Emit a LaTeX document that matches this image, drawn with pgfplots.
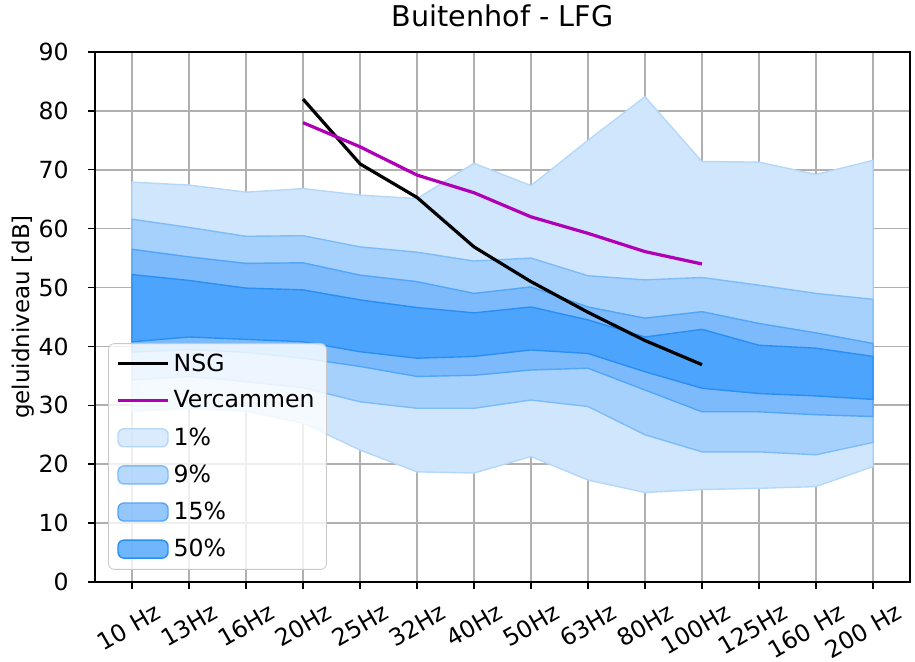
\documentclass[border=0pt]{standalone}
\usepackage{pgfplots}
\pgfplotsset{compat=1.18}
\usepackage{pgfplotstable}
\usepgfplotslibrary{fillbetween}
\usepackage{fontspec}
\setmainfont{DejaVu Sans}

\definecolor{c1}{HTML}{D0E6FC}
\definecolor{e1}{HTML}{B4D8FA}
\definecolor{c9}{HTML}{A6D1FC}
\definecolor{e9}{HTML}{7DBCF9}
\definecolor{c15}{HTML}{7CBAFC}
\definecolor{e15}{HTML}{52A6F9}
\definecolor{c50}{HTML}{4DA4FC}
\definecolor{e50}{HTML}{2A8FF5}
\definecolor{verc}{HTML}{B000B5}
\definecolor{gridc}{HTML}{B0B0B0}

\pgfplotsset{
  patchlegend/.style={legend image code/.code={\draw[##1] (0pt,-4.5pt) rectangle (25pt,4.5pt);}},
  linelegend/.style={legend image code/.code={\draw[##1] (0pt,0pt) -- (25pt,0pt);}},
}

\pgfplotstableread{
x u1 l1 u9 l9 u15 l15 u50 l50
0  67.9 29.0 61.6 34.3 56.5 39.0 52.2 40.8
1  67.4 29.5 60.2 34.9 55.2 39.5 51.2 41.6
2  66.2 29.0 58.7 34.0 54.1 39.0 49.9 41.2
3  66.8 27.0 58.8 33.0 54.2 38.0 49.6 40.8
4  65.7 22.4 56.9 30.6 52.1 36.6 47.9 39.1
5  65.1 18.7 56.0 29.5 51.0 34.9 46.6 38.0
6  71.1 18.5 54.5 29.5 49.0 35.1 45.7 38.3
7  67.3 21.3 55.0 30.9 50.1 36.0 46.7 39.4
8  75.0 17.3 52.0 29.8 46.7 36.3 44.5 38.8
9  82.4 15.2 51.3 25.0 44.8 32.6 41.6 35.7
10 71.4 15.7 51.7 22.1 45.9 28.9 42.9 32.9
11 71.3 15.9 50.4 22.1 43.9 28.9 40.2 32.0
12 69.2 16.2 49.0 21.6 42.3 28.4 39.7 31.6
13 71.6 19.6 48.0 23.7 40.5 28.1 38.3 31.0
}\bands

\pgfplotstableread{
x nsg verc
3  82.0 78.0
4  71.0 73.9
5  65.3 69.1
6  56.9 66.1
7  51.0 62.0
8  45.8 59.2
9  41.0 56.1
10 36.9 54.0
}\lines

\begin{document}
\begin{tikzpicture}
\begin{axis}[
  name=ax,
  scale only axis,
  width=407.5pt, height=265pt,
  xmin=-0.65, xmax=13.65,
  ymin=0, ymax=90,
  xtick={0,...,13},
  xticklabels={10 Hz,13Hz,16Hz,20Hz,25Hz,32Hz,40Hz,50Hz,63Hz,80Hz,100Hz,125Hz,160 Hz,200 Hz},
  ytick={0,10,...,90},
  tick pos=left,
  tick align=outside,
  major tick length=3.5pt,
  every tick/.style={black, line width=0.7pt},
  grid=major,
  grid style={gridc, line width=0.85pt},
  axis line style={black, line width=1pt},
  tick label style={font=\fontsize{11.8}{14}\selectfont},
  /pgf/number format/assume math mode=true,
  xticklabel style={xshift=10.8pt, yshift=-6.5pt, rotate=30, anchor=north east, inner sep=0pt},
  yticklabel style={xshift=-9.5pt, inner sep=0pt},
  ylabel={geluidniveau [dB]},
  ylabel style={font=\fontsize{11.5}{14}\selectfont, at={(axis description cs:-0.0736,0.5)}, anchor=south, inner sep=0pt},
  title={Buitenhof - LFG},
  title style={font=\fontsize{14.3}{17}\selectfont, at={(axis description cs:0.5,1)}, anchor=base, yshift=6.5pt, inner sep=0pt},
  legend cell align=left,
  legend style={at={(axis description cs:0.016,0.023)}, anchor=south west,
    fill=white, fill opacity=0.8, draw opacity=1, text opacity=1,
    draw=gridc!70, rounded corners=3pt,
    font=\fontsize{11.8}{14}\selectfont,
    row sep=4.3pt, inner xsep=4pt, inner ysep=3pt},
]
\addlegendimage{black, line width=1.6pt, linelegend}
\addlegendentry{NSG}
\addlegendimage{verc, line width=1.6pt, linelegend}
\addlegendentry{Vercammen}

% 1% band
\addplot[name path=u1, draw=none, forget plot] table[x=x, y=u1]{\bands};
\addplot[name path=l1, draw=none, forget plot] table[x=x, y=l1]{\bands};
\addplot[fill=c1, draw=e1, line width=0.7pt, patchlegend] fill between[of=u1 and l1];
\addlegendentry{1\%}
% 9% band
\addplot[name path=u9, draw=none, forget plot] table[x=x, y=u9]{\bands};
\addplot[name path=l9, draw=none, forget plot] table[x=x, y=l9]{\bands};
\addplot[fill=c9, draw=e9, line width=0.7pt, patchlegend] fill between[of=u9 and l9];
\addlegendentry{9\%}
% 15% band
\addplot[name path=u15, draw=none, forget plot] table[x=x, y=u15]{\bands};
\addplot[name path=l15, draw=none, forget plot] table[x=x, y=l15]{\bands};
\addplot[fill=c15, draw=e15, line width=0.7pt, patchlegend] fill between[of=u15 and l15];
\addlegendentry{15\%}
% 50% band
\addplot[name path=u50, draw=none, forget plot] table[x=x, y=u50]{\bands};
\addplot[name path=l50, draw=none, forget plot] table[x=x, y=l50]{\bands};
\addplot[fill=c50, draw=e50, line width=0.7pt, patchlegend] fill between[of=u50 and l50];
\addlegendentry{50\%}

\addplot[black, line width=1.6pt, forget plot] table[x=x, y=nsg]{\lines};
\addplot[verc, line width=1.6pt, forget plot] table[x=x, y=verc]{\lines};
\end{axis}
\pgfresetboundingbox
\path[use as bounding box] ([shift={(-47.5pt,-40pt)}]ax.south west) rectangle ([shift={(2.5pt,26pt)}]ax.north east);
\end{tikzpicture}
\end{document}
